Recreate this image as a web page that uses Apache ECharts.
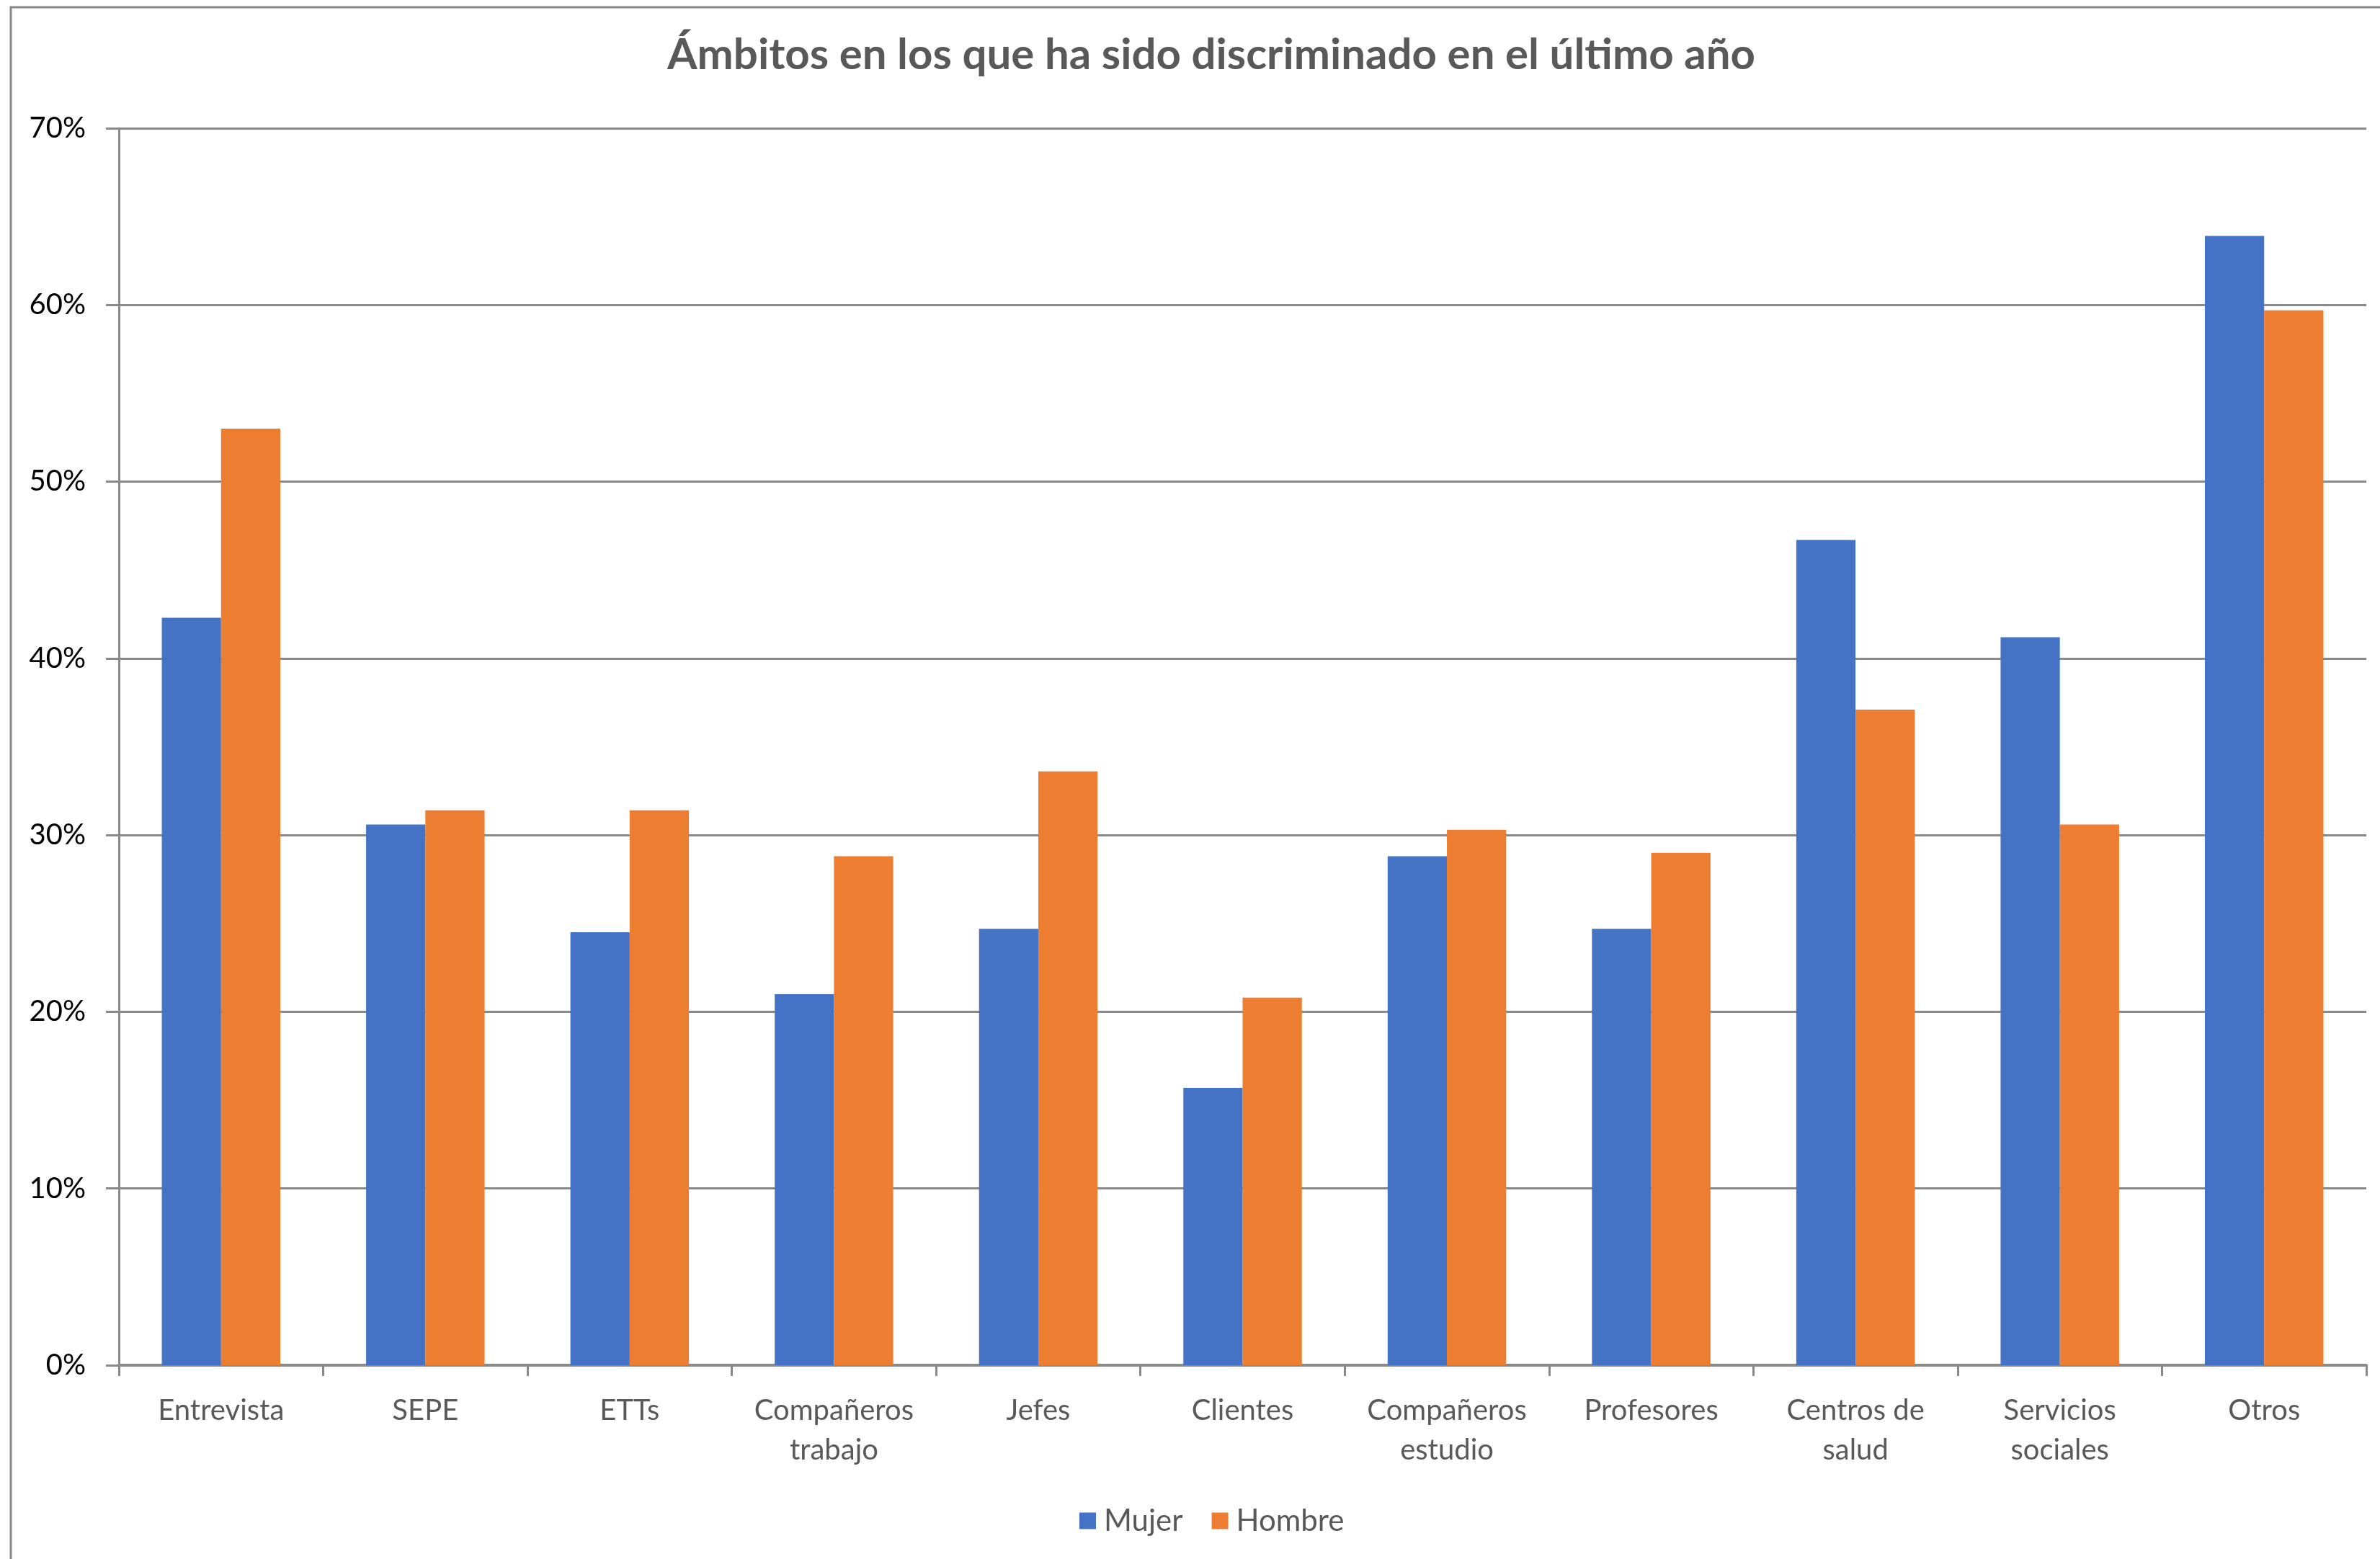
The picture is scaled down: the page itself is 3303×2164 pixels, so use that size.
<!DOCTYPE html>
<html>
<head>
<meta charset="utf-8">
<title>Ámbitos de discriminación</title>
<script src="https://cdn.jsdelivr.net/npm/echarts@6/dist/echarts.min.js"></script>
<style>
html, body { margin: 0; padding: 0; background: #fff; }
#graph { width: 3303px; height: 2164px; }
</style>
</head>
<body>
<div id="graph"></div>
<script>
var categories = ['Entrevista', 'SEPE', 'ETTs', 'Compañeros\ntrabajo', 'Jefes', 'Clientes',
    'Compañeros\nestudio', 'Profesores', 'Centros de\nsalud', 'Servicios\nsociales', 'Otros'];
var mujer = [42.3, 30.6, 24.5, 21.0, 24.7, 15.7, 28.8, 24.7, 46.7, 41.2, 63.9];
var hombre = [53.0, 31.4, 31.4, 28.8, 33.6, 20.8, 30.3, 29.0, 37.1, 30.6, 59.7];
var yTicks = [0, 10, 20, 30, 40, 50, 60, 70];

function draw() {
    var dom = document.getElementById('graph');
    var myChart = echarts.init(dom);
    var font = 'Lato';
    var option = {
        backgroundColor: '#fff',
        animation: false,
        title: {
            text: 'Ámbitos en los que ha sido discriminado en el último año',
            left: 1676,
            top: 42,
            textAlign: 'center',
            textStyle: {
                fontFamily: font,
                fontSize: 60,
                fontWeight: 'bold',
                color: '#595959'
            }
        },
        graphic: [{
            type: 'rect',
            shape: { x: 15, y: 10, width: 3400, height: 2300 },
            style: { fill: 'none', stroke: '#898989', lineWidth: 3 },
            silent: true
        }],
        legend: {
            data: ['Mujer', 'Hombre'],
            left: 1493,
            top: 2085,
            itemWidth: 23,
            itemHeight: 23,
            itemGap: 40,
            icon: 'rect',
            textStyle: {
                fontFamily: font,
                fontSize: 42,
                color: '#595959',
                padding: [0, 0, 0, 6]
            }
        },
        grid: {
            left: 165,
            right: 19,
            top: 178,
            bottom: 269,
            containLabel: false
        },
        xAxis: {
            type: 'category',
            data: categories,
            boundaryGap: true,
            axisLine: { lineStyle: { color: '#898989', width: 4 } },
            axisTick: { show: true, length: 15, lineStyle: { color: '#898989', width: 3 } },
            axisLabel: {
                interval: 0,
                margin: 36,
                fontFamily: font,
                fontSize: 40,
                lineHeight: 55,
                color: '#595959'
            }
        },
        yAxis: {
            type: 'value',
            min: yTicks[0],
            max: yTicks[yTicks.length - 1],
            interval: 10,
            axisLine: { show: true, lineStyle: { color: '#898989', width: 3 } },
            axisTick: { show: true, length: 18, lineStyle: { color: '#898989', width: 3 } },
            splitLine: { show: true, lineStyle: { color: '#898989', width: 3 } },
            axisLabel: {
                margin: 46,
                fontFamily: font,
                fontSize: 40,
                color: '#000',
                formatter: '{value}%'
            }
        },
        series: [
            {
                name: 'Mujer',
                type: 'bar',
                data: mujer,
                barGap: '0%',
                barCategoryGap: '42%',
                itemStyle: { color: '#4472C4' }
            },
            {
                name: 'Hombre',
                type: 'bar',
                data: hombre,
                barGap: '0%',
                barCategoryGap: '42%',
                itemStyle: { color: '#ED7D31' }
            }
        ]
    };
    if (option && typeof option === 'object') {
        myChart.setOption(option, true);
    }
}
draw();
</script>
</body>
</html>
